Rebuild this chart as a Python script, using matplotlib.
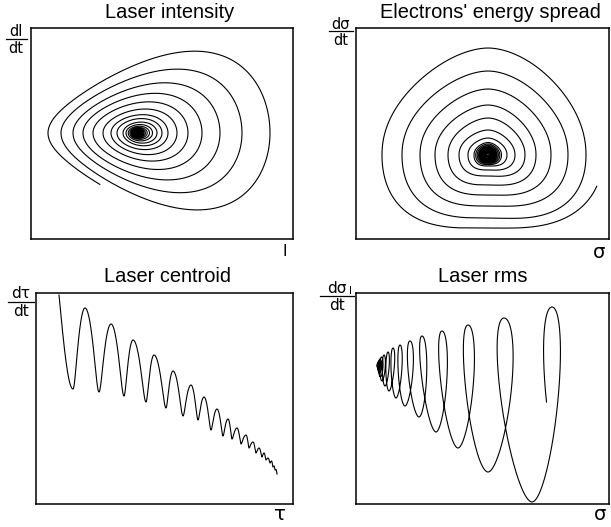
import numpy as np
import matplotlib
matplotlib.use('Agg')
import matplotlib.pyplot as plt

# Laser intensity: where each turn crosses the centre line (I units, left / right side)
INTENSITY_LEFT = [17, 30, 42, 52, 62, 72, 80, 86, 92, 95, 97.2, 98.8, 100.1, 101.2, 102.1,
                  102.9, 103.6, 104.2, 104.7, 105.1, 105.5, 105.8, 106.05, 106.25, 106.4,
                  106.52, 106.62, 106.7]
INTENSITY_RIGHT = [239, 211, 189, 171, 157, 146, 137, 131, 126, 121.5, 118.5, 116.2, 114.4,
                   113, 111.8, 110.8, 110, 109.3, 108.8, 108.4, 108.05, 107.8, 107.6, 107.45,
                   107.33, 107.24, 107.17, 107.12]
INTENSITY_CENTRE = (107, 106)

# Energy spread: distance from the fixed point at the bottom / left / top / right of each turn
SPREAD_BOTTOM = [73, 63, 51, 40, 30, 21, 15, 11, 9.6, 8.4, 7.4, 6.5, 5.7, 5.0, 4.4, 3.9, 3.4,
                 3.0, 2.6, 2.3, 2.0, 1.7, 1.5, 1.3, 1.1]
SPREAD_LEFT = [106, 86, 68, 53, 40, 29, 20, 14, 12.3, 10.8, 9.5, 8.4, 7.4, 6.5, 5.7, 5.0, 4.4,
               3.9, 3.4, 3.0, 2.6, 2.3, 2.0, 1.7, 1.5]
SPREAD_TOP = [107, 84, 66, 50, 37, 25, 17, 12.5, 11, 9.7, 8.5, 7.5, 6.6, 5.8, 5.1, 4.5, 3.9,
              3.5, 3.0, 2.7, 2.3, 2.0, 1.8, 1.6, 1.4]
SPREAD_RIGHT = [98, 80, 63, 48, 37, 27, 19, 13.5, 11.8, 10.4, 9.1, 8.0, 7.0, 6.2, 5.4, 4.8,
                4.2, 3.7, 3.2, 2.8, 2.5, 2.2, 1.9, 1.6, 1.4]
SPREAD_CENTRE = (132, 84)
SPREAD_TAIL = (0.28, 115)

# Laser centroid: successive turning points of (tau, dtau/dt)
CENTROID_TAU = [23, 37, 49, 63, 75, 88, 97, 110, 118, 130, 137, 147, 155, 162, 168, 175,
                181, 187, 192, 196, 201, 205, 210, 213, 217, 220, 223, 226, 228, 230, 232,
                234, 235.5, 237, 238, 239, 240, 241]
CENTROID_RATE = [209, 115, 196, 112, 180, 108, 164, 102, 149, 96, 133, 88, 119, 84, 107, 74,
                 95, 68, 85, 65, 76, 60, 69, 56, 62, 51, 56, 47, 51, 44, 46, 41, 43, 37, 38,
                 34, 34.5, 30]

# Laser rms: position / level at each top and bottom of the loops, and loop swing
RMS_DRIFT = [216, 196, 176, 148, 132, 112, 102, 86, 80, 66, 63, 54, 49, 44, 40, 37, 33, 32,
             29, 28, 26, 25.5, 24.5, 24, 23.5, 23, 22.7, 22.5, 22.3, 22.1]
RMS_LEVEL = [7, 197, 2, 186, 32, 179, 56, 173, 72, 168, 87, 163, 98, 159, 106, 156, 113, 152,
             118, 149, 123, 147, 127, 145, 131, 143, 134, 142, 136, 141]
RMS_SWING = [15.5, 15.5, 10.5, 8, 6.2, 5.5, 3.8, 3.2, 2.5, 2.2, 2, 1.8, 1.5, 1.3, 1.1]

TITLES = ['Laser intensity', "Electrons' energy spread", 'Laser centroid', 'Laser rms']

W, H = 611, 527
LW = 0.8


def blend(theta, nodes, values):
    """Cosine blend between values given at increasing nodes."""
    nodes = np.asarray(nodes, float)
    values = np.asarray(values, float)
    idx = np.clip(np.searchsorted(nodes, theta, side='right') - 1, 0, len(nodes) - 2)
    t = np.clip((theta - nodes[idx]) / (nodes[idx + 1] - nodes[idx]), 0, 1)
    w = (1 - np.cos(np.pi * t)) / 2
    return values[idx] + (values[idx + 1] - values[idx]) * w


def make_axes(fig, left, top, right, bottom, xmax, ymax):
    ax = fig.add_axes([left / W, 1 - bottom / H, (right - left) / W, (bottom - top) / H])
    ax.set_xlim(0, xmax)
    ax.set_ylim(0, ymax)
    ax.set_xticks([])
    ax.set_yticks([])
    for s in ax.spines.values():
        s.set_linewidth(1.1)
    return ax


def frac_label(fig, x, y_top, top_text, size, width, gap):
    # little "d?/dt" fraction drawn left of the axes
    fx = x / W
    fig.text(fx, 1 - y_top / H, top_text, ha='center', va='top', fontsize=size,
             family='DejaVu Sans')
    yl = 1 - (y_top + gap) / H
    fig.add_artist(plt.Line2D([fx - width / 2 / W, fx + width / 2 / W], [yl, yl],
                              color='black', lw=0.9))
    fig.text(fx, yl - 2 / H, 'dt', ha='center', va='top', fontsize=size,
             family='DejaVu Sans')


def intensity_panel(ax):
    shift = 141.0
    cx, cy = INTENSITY_CENTRE
    c = cx + shift
    amps = []
    for lft, rgt in zip(INTENSITY_LEFT, INTENSITY_RIGHT):
        amps.append(np.log(c / (lft + shift)))
        amps.append(np.log((rgt + shift) / c))
    nodes = np.pi * np.arange(1, len(amps) + 1)
    theta = np.linspace(1.95, nodes[-1], 80000)
    a = blend(theta, nodes, amps)
    big = c * np.exp(a * np.cos(theta))
    x = big - shift
    # steeper growth of dI/dt with I gives the pointed left end
    y = cy - 0.636 * c * (big / c) ** 1.5 * a * np.sin(theta)
    ax.plot(x, y, color='black', lw=LW)


def spread_panel(ax):
    cx, cy = SPREAD_CENTRE
    n = len(SPREAD_BOTTOM)
    # horizontal half-widths sit on the right/left crossings, vertical ones on bottom/top
    rx_nodes = [0.0]
    rx_vals = [SPREAD_TAIL[1]]
    ry_nodes = [-np.pi / 2]
    ry_vals = [SPREAD_TOP[0]]
    for k in range(n):
        base = 2 * np.pi * k
        ry_nodes += [base + np.pi / 2, base + 3 * np.pi / 2]
        ry_vals += [SPREAD_BOTTOM[k], SPREAD_TOP[k]]
        rx_nodes += [base + np.pi, base + 2 * np.pi]
        rx_vals += [SPREAD_LEFT[k], SPREAD_RIGHT[k]]
    theta = np.linspace(SPREAD_TAIL[0], rx_nodes[-1], 80000)
    rx = blend(theta, rx_nodes, rx_vals)
    ry = blend(theta, ry_nodes, ry_vals)
    c, s = np.cos(theta), -np.sin(theta)
    # rounder on top, flatter underneath
    p = 2.1 - 0.3 * s
    r = 1.0 / ((np.abs(c) / rx) ** p + (np.abs(s) / ry) ** p) ** (1 / p)
    ax.plot(cx + r * c, cy + r * s, color='black', lw=LW)


def centroid_panel(ax):
    xs, ys = [], []
    k = 0.35  # broad crests, narrow troughs
    for i in range(len(CENTROID_TAU) - 1):
        t = np.linspace(0, 1, 60)
        x0, x1 = CENTROID_TAU[i], CENTROID_TAU[i + 1]
        y0, y1 = CENTROID_RATE[i], CENTROID_RATE[i + 1]
        if i == 0:
            w = np.sin(np.pi * t / 2)
            tx = t
        else:
            w = (1 - np.cos(np.pi * t)) / 2
            sign = 1 if y1 < y0 else -1
            tx = t + sign * k * np.sin(np.pi * t) / np.pi
        xs.append(x0 + (x1 - x0) * tx)
        ys.append(y0 + (y1 - y0) * w)
    ax.plot(np.concatenate(xs), np.concatenate(ys), color='black', lw=LW)


def rms_panel(ax):
    nodes = np.pi * np.arange(-1, len(RMS_DRIFT) - 1)
    tops = nodes[1::2]
    theta = np.linspace(-np.pi / 2, nodes[-1], 60000)
    xc = blend(theta, nodes, RMS_DRIFT)
    a = blend(theta, tops[:len(RMS_SWING)], RMS_SWING)
    y = blend(theta, nodes, RMS_LEVEL)
    ax.plot(xc + a * np.sin(theta), y, color='black', lw=LW)


def main():
    fig = plt.figure(figsize=(W / 100, H / 100), dpi=100)

    ax1 = make_axes(fig, 31, 28, 293, 239, 262, 211)
    intensity_panel(ax1)
    ax2 = make_axes(fig, 356, 28, 609, 239, 253, 211)
    spread_panel(ax2)
    ax3 = make_axes(fig, 36, 293, 293, 504, 257, 211)
    centroid_panel(ax3)
    ax4 = make_axes(fig, 356, 293, 609, 504, 253, 211)
    rms_panel(ax4)

    title_pos = [(170, 12), (490, 12), (167, 277), (483, 277)]
    for (x, y), title in zip(title_pos, TITLES):
        fig.text(x / W, 1 - y / H, title, ha='center', va='center', fontsize=14.4,
                 family='Liberation Sans')

    frac_label(fig, 16, 24, 'dI', 10.5, 21, 15)
    frac_label(fig, 341, 17, 'dσ', 10.5, 24, 14)
    frac_label(fig, 21, 286, 'dτ', 11, 26, 16)
    frac_label(fig, 337, 281, 'dσ', 11, 34, 15)
    fig.text(350 / W, 1 - 291 / H, 'l', ha='center', va='center', fontsize=7.5,
             family='DejaVu Sans')

    # variable names under the right end of each x axis
    fig.text(285 / W, 1 - 252 / H, 'I', ha='center', va='center', fontsize=11.5,
             family='Liberation Sans')
    fig.text(599 / W, 1 - 252 / H, 'σ', ha='center', va='center', fontsize=14,
             family='DejaVu Sans')
    fig.text(280 / W, 1 - 515 / H, 'τ', ha='center', va='center', fontsize=14,
             family='DejaVu Sans')
    fig.text(600 / W, 1 - 514 / H, 'σ', ha='center', va='center', fontsize=14,
             family='DejaVu Sans')

    fig.savefig('out.png', dpi=100)


if __name__ == '__main__':
    main()
